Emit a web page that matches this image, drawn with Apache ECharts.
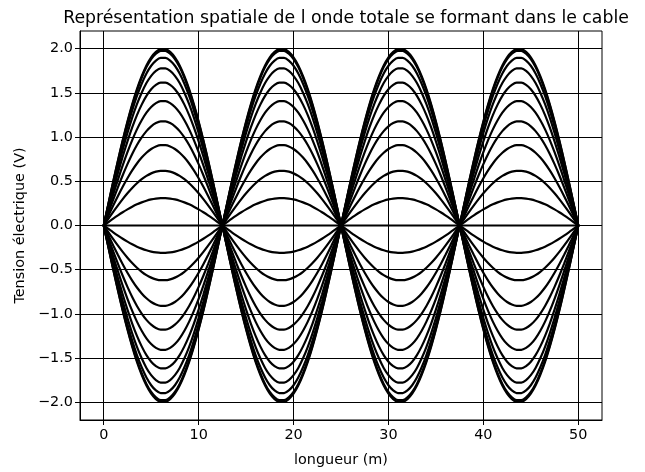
<!DOCTYPE html>
<html>
<head>
<meta charset="utf-8">
<script src="https://cdn.jsdelivr.net/npm/echarts@6/dist/echarts.min.js"></script>
<style>
  html, body { margin: 0; padding: 0; background: #fff; }
  #chart { width: 645px; height: 472px; }
</style>
</head>
<body>
<div id="chart"></div>
<script>
// Standing wave on a 50 m cable: snapshots of the total wave at successive instants.
const titleText = 'Représentation spatiale de l onde totale se formant dans le cable';
const xName = 'longueur (m)';
const yName = 'Tension électrique (V)';

const xTicks = [0, 10, 20, 30, 40, 50];
const yTicks = [-2.0, -1.5, -1.0, -0.5, 0.0, 0.5, 1.0, 1.5, 2.0];

// Node spacing along the cable and sample spacing of one arch (m)
const nodeSpacing = 12.5;
const sampleStep = 0.5;
const archCount = 4;

// Normalised shape of one arch between two nodes, sampled every 0.5 m
const archShape = [
  0.000, 0.125, 0.249, 0.368, 0.482, 0.588, 0.685, 0.771, 0.844, 0.905,
  0.951, 0.982, 0.998, 0.998, 0.982, 0.951, 0.905, 0.844, 0.771, 0.685,
  0.588, 0.482, 0.368, 0.249, 0.125, 0.000
];

// Antinode amplitude (V) of each snapshot
const amplitudes = [
  2.00, 1.98, 1.90, 1.78, 1.62, 1.41, 1.18, 0.91, 0.62, 0.31, 0.00,
  -0.31, -0.62, -0.91, -1.18, -1.41, -1.62, -1.78, -1.90, -1.98, -2.00
];

function snapshot(amp) {
  const pts = [];
  for (let s = 0; s < archCount; s++) {
    const sign = s % 2 === 0 ? 1 : -1;
    for (let i = (s === 0 ? 0 : 1); i < archShape.length; i++) {
      pts.push([s * nodeSpacing + i * sampleStep, amp * sign * archShape[i]]);
    }
  }
  return pts;
}

const FONT = 'DejaVu Sans';
const minus = v => String(v).replace('-', '\u2212');

const chart = echarts.init(document.getElementById('chart'), null, { renderer: 'canvas' });
chart.setOption({
  animation: false,
  backgroundColor: '#fff',
  title: {
    text: titleText,
    left: 341, top: 5,
    textAlign: 'center',
    textStyle: { fontFamily: FONT, fontSize: 17.3, fontWeight: 'normal', color: '#000' }
  },
  grid: {
    left: 80, right: 43, top: 31, bottom: 52,
    show: true, borderColor: '#000', borderWidth: 1, backgroundColor: 'transparent'
  },
  xAxis: {
    type: 'value', min: -2.5, max: 52.5,
    name: xName, nameLocation: 'middle', nameGap: 33,
    nameTextStyle: { fontFamily: FONT, fontSize: 14.4, color: '#000' },
    axisLine: { show: true, onZero: false, lineStyle: { color: '#000', width: 1 } },
    axisTick: { show: true, length: 5, customValues: xTicks, lineStyle: { color: '#000', width: 1 } },
    axisLabel: {
      customValues: xTicks, margin: 8,
      fontFamily: FONT, fontSize: 14.4, color: '#000',
      formatter: v => minus(v)
    },
    splitLine: { show: true, lineStyle: { color: '#000', width: 1 } }
  },
  yAxis: {
    type: 'value', min: -2.2, max: 2.2,
    name: yName, nameLocation: 'middle', nameGap: 49, nameRotate: 90,
    nameTextStyle: { fontFamily: FONT, fontSize: 14.4, color: '#000' },
    axisLine: { show: true, onZero: false, lineStyle: { color: '#000', width: 1 } },
    axisTick: { show: true, length: 5, customValues: yTicks, lineStyle: { color: '#000', width: 1 } },
    axisLabel: {
      customValues: yTicks, margin: 7,
      fontFamily: FONT, fontSize: 14.4, color: '#000',
      formatter: v => minus(Number(v).toFixed(1))
    },
    splitLine: { show: true, lineStyle: { color: '#000', width: 1 } }
  },
  series: amplitudes.map(a => ({
    type: 'line',
    data: snapshot(a),
    showSymbol: false,
    smooth: 0.3,
    lineStyle: { color: '#000', width: 2.2 },
    itemStyle: { color: '#000' },
    emphasis: { disabled: true },
    silent: true
  }))
});
</script>
</body>
</html>
